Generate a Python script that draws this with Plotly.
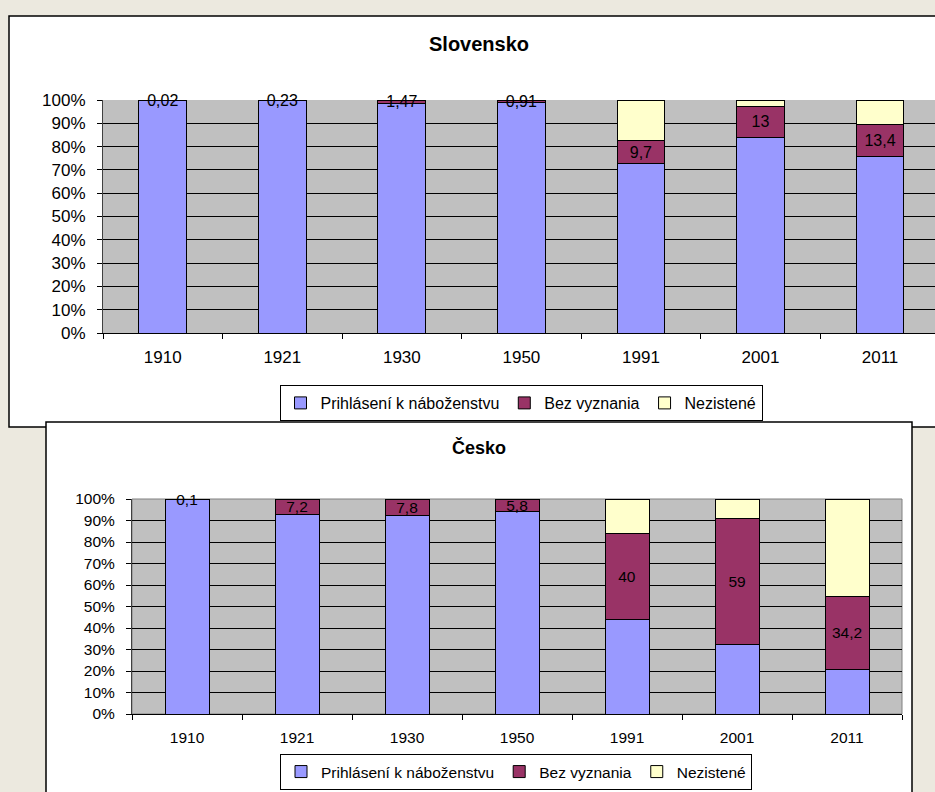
import plotly.graph_objects as go

W, H = 935, 792

categories = ["1910", "1921", "1930", "1950", "1991", "2001", "2011"]

series_names = ["Prihlásení k náboženstvu", "Bez vyznania", "Nezistené"]
series_colors = ["#9999FF", "#993366", "#FFFFCC"]

sk_rel = [99.98, 99.77, 98.53, 99.09, 72.8, 84.1, 75.9]
sk_none = [0.02, 0.23, 1.47, 0.91, 9.7, 13.0, 13.4]
sk_unk = [0, 0, 0, 0, 17.5, 2.9, 10.7]
sk_labels = ["0,02", "0,23", "1,47", "0,91", "9,7", "13", "13,4"]

cz_rel = [99.9, 92.8, 92.2, 94.2, 43.9, 32.1, 20.6]
cz_none = [0.1, 7.2, 7.8, 5.8, 40.0, 59.0, 34.2]
cz_unk = [0, 0, 0, 0, 16.1, 8.9, 45.2]
cz_labels = ["0,1", "7,2", "7,8", "5,8", "40", "59", "34,2"]

FONT = "Liberation Sans, Arial, sans-serif"


def px(x):
    return x / W


def py(y):
    return 1 - y / H


fig = go.Figure()


def add_chart(rel, none, unk, labels, xa, ya, legend, fsize):
    for i, (vals, name) in enumerate(zip([rel, none, unk], series_names)):
        kw = {}
        if i == 1:
            kw = dict(
                text=labels,
                texttemplate="%{text}",
                textposition="inside",
                insidetextanchor="middle",
                textangle=0,
                constraintext="none",
                cliponaxis=False,
                textfont=dict(family=FONT, size=fsize, color="black"),
            )
        fig.add_trace(go.Bar(
            x=categories, y=vals, name=name,
            marker=dict(color=series_colors[i], line=dict(color="black", width=1)),
            width=0.4, xaxis=xa, yaxis=ya, legend=legend,
            hoverinfo="skip", **kw))


add_chart(sk_rel, sk_none, sk_unk, sk_labels, "x", "y", "legend", 16)
add_chart(cz_rel, cz_none, cz_unk, cz_labels, "x2", "y2", "legend2", 15.5)

shapes = [
    # white chart boxes
    dict(type="rect", xref="paper", yref="paper",
         x0=px(9), x1=px(960), y0=py(16), y1=py(427),
         fillcolor="white", line=dict(color="black", width=1.5), layer="below"),
    dict(type="rect", xref="paper", yref="paper",
         x0=px(46), x1=px(912), y0=py(422), y1=py(820),
         fillcolor="white", line=dict(color="black", width=1.5), layer="below"),
    # grey plot areas
    dict(type="rect", xref="x domain", yref="y domain", x0=0, x1=1, y0=0, y1=1,
         fillcolor="#C0C0C0", line=dict(width=0), layer="below"),
    dict(type="rect", xref="x2 domain", yref="y2 domain", x0=0, x1=1, y0=0, y1=1,
         fillcolor="#C0C0C0", line=dict(color="#808080", width=1), layer="below"),
]


def xaxis_cfg(domain, rng, fsize):
    return dict(domain=domain, range=rng, type="category", showgrid=False,
                showline=True, linecolor="black", linewidth=1,
                ticks="outside", tickson="boundaries", ticklen=5, tickcolor="black",
                ticklabelstandoff=9,
                tickfont=dict(family=FONT, size=fsize, color="black"),
                fixedrange=True, zeroline=False)


def yaxis_cfg(domain, anchor, fsize):
    return dict(domain=domain, range=[0, 100], dtick=10, ticksuffix="%",
                showgrid=True, gridcolor="black", gridwidth=1,
                showline=True, linecolor="#404040", linewidth=1,
                ticks="outside", ticklen=5, tickcolor="black",
                ticklabelstandoff=8, anchor=anchor,
                tickfont=dict(family=FONT, size=fsize, color="black"),
                fixedrange=True, zeroline=False)


fig.update_layout(
    width=W, height=H,
    margin=dict(l=0, r=0, t=0, b=0, autoexpand=False),
    paper_bgcolor="#ECE9DF",
    plot_bgcolor="#C0C0C0",
    barmode="stack",
    bargap=0.6,
    font=dict(family=FONT, color="black"),
    shapes=shapes,
    xaxis=dict(**xaxis_cfg([px(103), 1.0], [-0.5, 6.46], 17), anchor="y"),
    yaxis=yaxis_cfg([py(333), py(100)], "x", 17),
    xaxis2=dict(**xaxis_cfg([px(132), px(902)], [-0.5, 6.5], 15.5), anchor="y2"),
    yaxis2=yaxis_cfg([py(714), py(499)], "x2", 15.5),
    legend=dict(orientation="h", x=px(521), xanchor="center", y=py(421), yanchor="bottom",
                bgcolor="white", bordercolor="black", borderwidth=1,
                font=dict(family=FONT, size=16, color="black"), itemwidth=30,
                traceorder="normal"),
    legend2=dict(orientation="h", x=px(516), xanchor="center", y=py(790), yanchor="bottom",
                 bgcolor="white", bordercolor="black", borderwidth=1,
                 font=dict(family=FONT, size=15.5, color="black"), itemwidth=30,
                 traceorder="normal"),
    annotations=[
        dict(text="<b>Slovensko</b>", x=px(479), y=py(44), xref="paper", yref="paper",
             showarrow=False, font=dict(family=FONT, size=20, color="black"),
             xanchor="center", yanchor="middle"),
        dict(text="<b>Česko</b>", x=px(479), y=py(447), xref="paper", yref="paper",
             showarrow=False, font=dict(family=FONT, size=18, color="black"),
             xanchor="center", yanchor="middle"),
    ],
)

fig.write_html("out.html",
               config={"displayModeBar": False},
               post_script="document.body.style.margin='0';document.body.style.overflow='hidden';")
